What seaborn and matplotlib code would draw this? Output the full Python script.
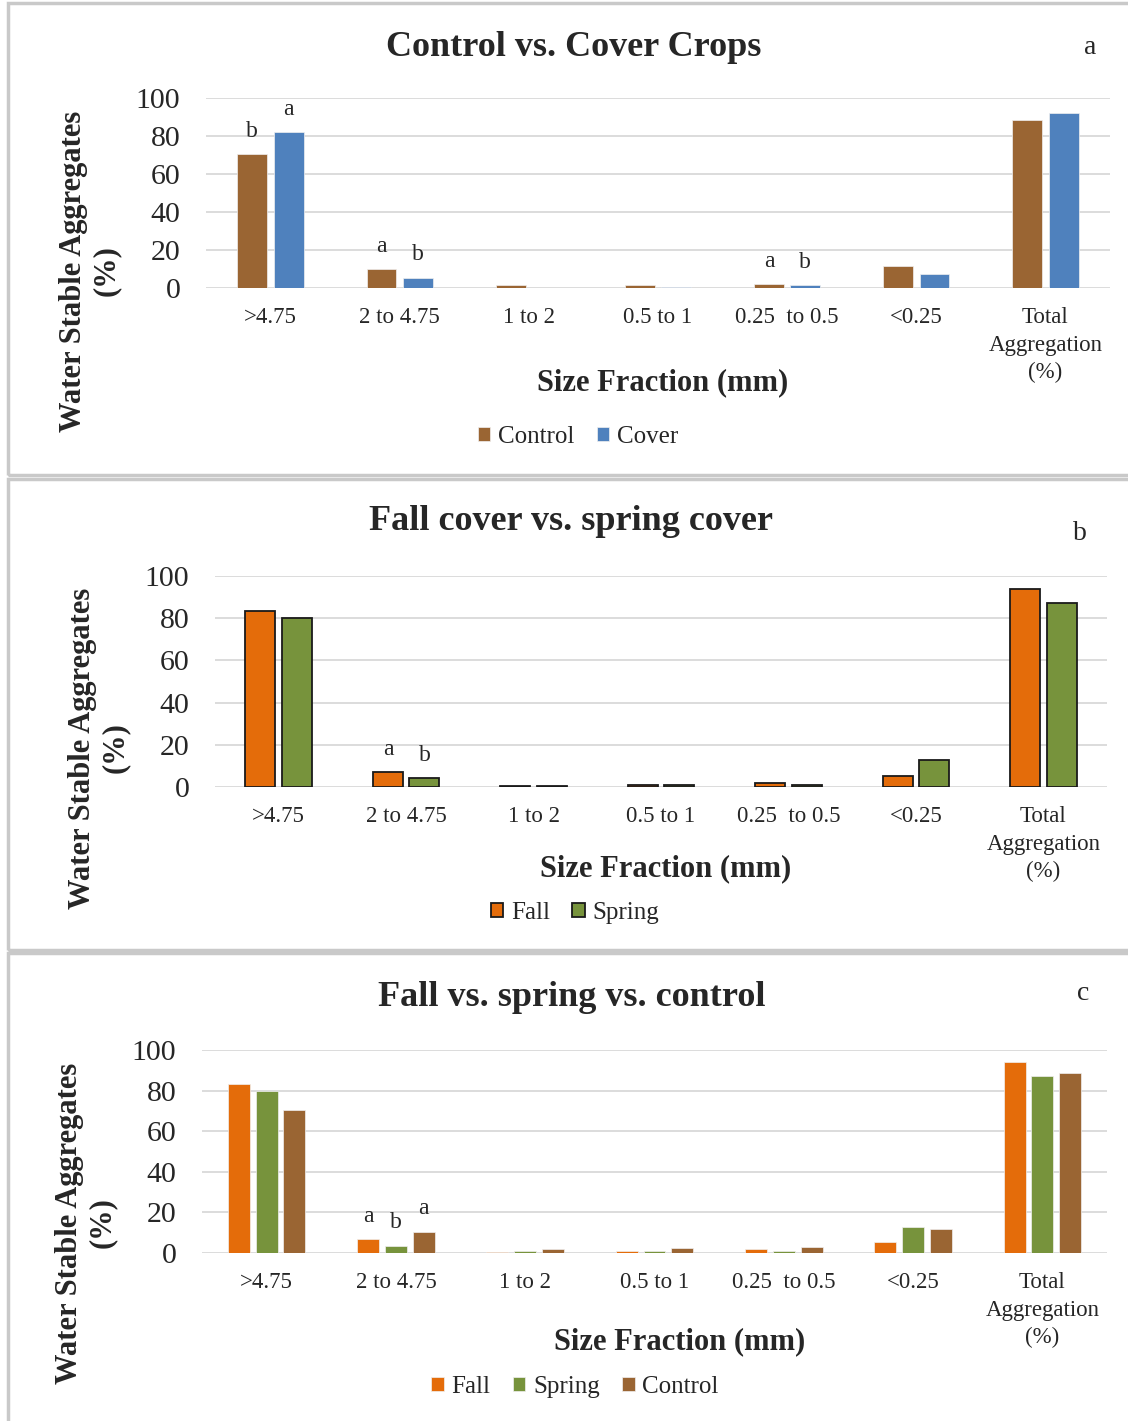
import numpy as np
import pandas as pd
import matplotlib
matplotlib.use("Agg")
import matplotlib.pyplot as plt
import seaborn as sns
from matplotlib.patches import Rectangle

# size fractions on the x axis
categories = [">4.75", "2 to 4.75", "1 to 2", "0.5 to 1", "0.25  to 0.5", "<0.25",
              "Total\nAggregation\n(%)"]

# panel a - control vs cover crops
control_a = [70.3, 9.9, 1.4, 1.4, 2.1, 11.5, 88.4]
cover_a = [82.1, 5.3, 0.1, 0.7, 1.4, 7.4, 92.3]
letters_a = {"Control": ["b", "a", "", "", "a", "", ""],
             "Cover": ["a", "b", "", "", "b", "", ""]}

# panel b - fall cover vs spring cover
fall_b = [83.5, 7.1, 0.5, 1.1, 1.7, 5.2, 94.0]
spring_b = [79.9, 4.1, 0.5, 1.1, 1.1, 12.9, 87.1]
letters_b = {"Fall": ["", "a", "", "", "", "", ""],
             "Spring": ["", "b", "", "", "", "", ""]}

# panel c - fall vs spring vs control
fall_c = [83.1, 6.8, 0.7, 1.2, 1.8, 5.6, 94.1]
spring_c = [79.8, 3.6, 0.8, 1.2, 1.2, 13.0, 87.4]
control_c = [70.6, 10.5, 1.8, 2.5, 3.1, 11.8, 88.5]
letters_c = {"Fall": ["", "a", "", "", "", "", ""],
             "Spring": ["", "b", "", "", "", "", ""],
             "Control": ["", "a", "", "", "", "", ""]}

colors = {"Control": "#9A6533", "Cover": "#4F81BD",
          "Fall": "#E46C0A", "Spring": "#77933C"}

sns.set_theme(style="white")
plt.rcParams['font.family'] = ['Liberation Serif', 'DejaVu Serif']

W, H = 1128, 1421
fig = plt.figure(figsize=(W / 100, H / 100), dpi=100)


def fxy(x, y):
    return x / W, 1 - y / H


def px_axes(left, top, right, bottom):
    return fig.add_axes([left / W, 1 - bottom / H, (right - left) / W, (bottom - top) / H])


def long_frame(series):
    rows = []
    for name, vals in series.items():
        for cat, v in zip(categories, vals):
            rows.append((cat, name, v))
    return pd.DataFrame(rows, columns=["fraction", "treatment", "value"])


def panel(box, series, letters, width, gap, edge, lw, title, tag, tag_xy,
          title_xy, xlab_xy, ylab_xy, leg_xy, border):
    # grey frame around each chart
    bx0, by0, by1 = border
    fig.add_artist(Rectangle(fxy(bx0, by1), (W + 20 - bx0) / W, (by1 - by0) / H,
                             transform=fig.transFigure, fill=False,
                             edgecolor="#C9C9C9", lw=2.5, clip_on=False))
    ax = px_axes(*box)
    df = long_frame(series)
    names = list(series.keys())
    sns.barplot(data=df, x="fraction", y="value", hue="treatment",
                order=categories, hue_order=names,
                palette=[colors[n] for n in names], saturation=1,
                width=width, gap=gap, edgecolor=edge, linewidth=lw,
                errorbar=None, ax=ax)
    for cont, n in zip(ax.containers, names):
        ax.bar_label(cont, labels=letters[n], padding=9, fontsize=17)

    ax.set_ylim(0, 100)
    ax.set_yticks(range(0, 101, 20))
    ax.yaxis.grid(True, color="#D9D9D9", lw=1.3)
    ax.set_axisbelow(True)
    sns.despine(ax=ax, left=True, bottom=True)
    ax.tick_params(axis="y", length=0, labelsize=21.5, pad=18.5)
    ax.tick_params(axis="x", length=0, labelsize=16.5, pad=14)
    for lab in ax.get_xticklabels():
        lab.set_linespacing(1.4)
    ax.set_xlabel("")
    ax.set_ylabel("")

    fig.text(*fxy(*title_xy), title, ha="center", va="center",
             fontsize=26, fontweight="bold")
    fig.text(*fxy(*tag_xy), tag, ha="center", va="center", fontsize=20)
    fig.text(*fxy(*xlab_xy), "Size Fraction (mm)", ha="center", va="center",
             fontsize=22, fontweight="bold")
    fig.text(*fxy(*ylab_xy), "Water Stable Aggregates\n(%)", ha="center",
             va="center", rotation=90, fontsize=22, fontweight="bold",
             multialignment="center", linespacing=1.15)

    sns.move_legend(ax, "center", bbox_to_anchor=fxy(*leg_xy),
                    bbox_transform=fig.transFigure, ncol=len(names), title=None,
                    frameon=False, fontsize=18, handlelength=0.5, handleheight=0.5,
                    handletextpad=0.3, columnspacing=0.9)
    return ax


panel((206, 98, 1110, 288), {"Control": control_a, "Cover": cover_a}, letters_a,
      0.565, 0.18, "#F0F0F0", 0.5, "Control vs. Cover Crops", "a", (1090, 48),
      (574, 47), (663, 383), (90, 271), (578, 437), (8, 3, 475))

panel((215, 576, 1107, 787), {"Fall": fall_b, "Spring": spring_b}, letters_b,
      0.573, 0.18, "#1a1a1a", 1.3, "Fall cover vs. spring cover", "b", (1080, 533),
      (571, 522), (666, 869), (99, 748), (575, 913), (8, 479, 950))

panel((202, 1050, 1107, 1253), {"Fall": fall_c, "Spring": spring_c, "Control": control_c},
      letters_c, 0.646, 0.21, "#F0F0F0", 0.5, "Fall vs. spring vs. control", "c",
      (1083, 993), (572, 997), (680, 1342), (86, 1223), (575, 1387), (8, 953, 1440))

fig.savefig("out.png", dpi=100, facecolor="white")
